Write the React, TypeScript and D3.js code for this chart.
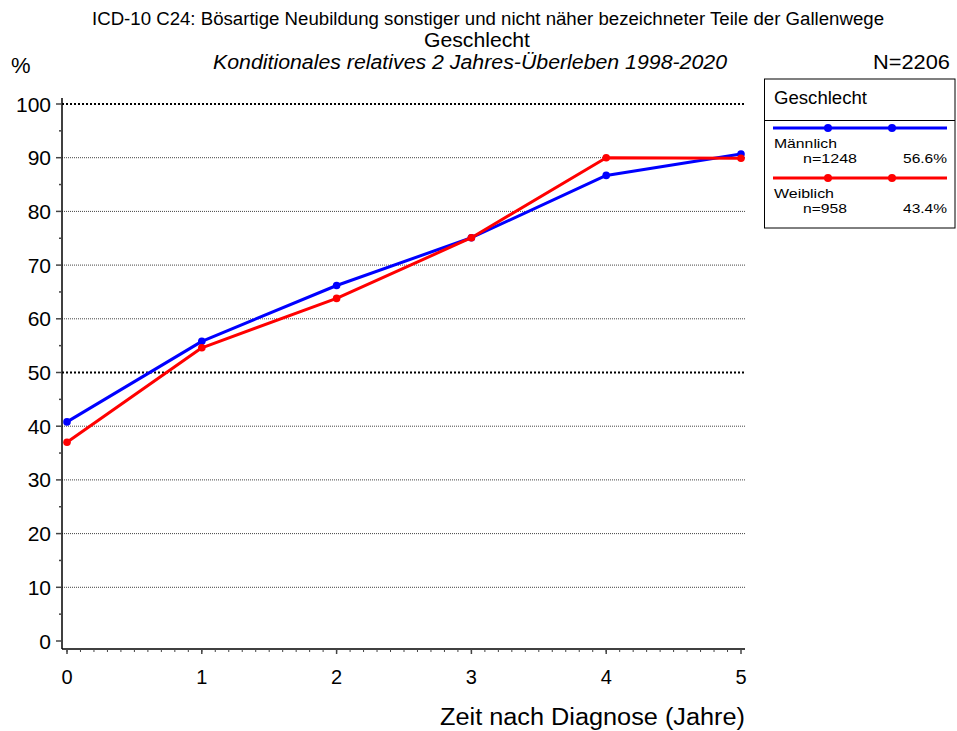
import React from 'react';
import * as d3 from 'd3';

// years after diagnosis
const years = [0, 1, 2, 3, 4, 5];
// conditional relative 2-year survival (%)
const maennlich = [40.8, 55.8, 66.2, 75.1, 86.7, 90.7];
const weiblich = [37.0, 54.6, 63.8, 75.1, 90.0, 89.9];
const yTicks = [0, 10, 20, 30, 40, 50, 60, 70, 80, 90, 100];

const series = [
  { name: 'Männlich', n: 'n=1248', pct: '56.6%', color: '#0000ff', values: maennlich },
  { name: 'Weiblich', n: 'n=958', pct: '43.4%', color: '#ff0000', values: weiblich },
];

const FONT = '"Liberation Sans", Arial, sans-serif';

// legend text widths as measured in the original
const legendWidths = [
  { name: 63, n: 54, pct: 44 },
  { name: 60, n: 44, pct: 44 },
];

export default function App() {
  const width = 957;
  const height = 731;

  // scales
  const x = d3.scaleLinear().domain([0, 5]).range([67, 741]);
  const y = d3.scaleLinear().domain([0, 100]).range([641, 104]);

  const line = d3.line<number>()
    .x((d, i) => x(years[i]))
    .y((d) => y(d));

  const minorX = d3.range(0, 50).map((i) => i / 10);
  const minorY = d3.range(5, 100, 10);

  return (
    <svg width={width} height={height} style={{ position: 'absolute', left: 0, top: 0 }} fontFamily={FONT}>
      <rect width={width} height={height} fill="#fff" />

      {/* titles */}
      <text x={92} y={25} fontSize={18} textLength={792} lengthAdjust="spacingAndGlyphs">
        ICD-10 C24: Bösartige Neubildung sonstiger und nicht näher bezeichneter Teile der Gallenwege
      </text>
      <text x={424} y={47} fontSize={20} textLength={106} lengthAdjust="spacingAndGlyphs">Geschlecht</text>
      <text x={213} y={69} fontSize={19.5} fontStyle="italic" textLength={514} lengthAdjust="spacingAndGlyphs">
        Konditionales relatives 2 Jahres-Überleben 1998-2020
      </text>
      <text x={11} y={73} fontSize={22}>%</text>
      <text x={873} y={69} fontSize={20} textLength={77} lengthAdjust="spacingAndGlyphs">N=2206</text>

      {/* grid lines */}
      {yTicks.filter((t) => t > 0).map((t) => {
        const bold = t === 100 || t === 50;
        return (
          <line key={'g' + t} x1={62} x2={745} y1={y(t)} y2={y(t)}
            stroke={bold ? '#000' : '#444'} strokeWidth={bold ? 2 : 1}
            strokeDasharray={bold ? '2,2' : '1,1'} />
        );
      })}

      {/* y axis */}
      <line x1={62} x2={62} y1={98} y2={649} stroke="#000" strokeWidth={1.5} />
      {yTicks.map((t) => (
        <g key={'y' + t}>
          <line x1={56} x2={62} y1={y(t)} y2={y(t)} stroke="#444" strokeWidth={1.5} />
          <text x={51} y={y(t) + 7.5} fontSize={21} textAnchor="end">{t}</text>
        </g>
      ))}
      {minorY.map((t) => (
        <line key={'my' + t} x1={59} x2={62} y1={y(t)} y2={y(t)} stroke="#444" strokeWidth={1.5} />
      ))}

      {/* x axis */}
      <line x1={62} x2={745} y1={649} y2={649} stroke="#000" strokeWidth={1.5} />
      {minorX.map((t) => (
        <line key={'mx' + t} x1={x(t)} x2={x(t)} y1={649} y2={652} stroke="#444" strokeWidth={1} />
      ))}
      {years.map((t) => (
        <g key={'x' + t}>
          <line x1={x(t)} x2={x(t)} y1={649} y2={654} stroke="#444" strokeWidth={1.5} />
          <text x={x(t)} y={684} fontSize={20} textAnchor="middle">{t}</text>
        </g>
      ))}
      <text x={440} y={725} fontSize={23} textLength={305} lengthAdjust="spacingAndGlyphs">Zeit nach Diagnose (Jahre)</text>

      {/* series */}
      {series.map((s) => (
        <g key={s.name}>
          <path d={line(s.values) || ''} fill="none" stroke={s.color} strokeWidth={3} strokeLinejoin="round" />
          {s.values.map((v, i) => (
            <circle key={i} cx={x(years[i])} cy={y(v)} r={3.8} fill={s.color} />
          ))}
        </g>
      ))}

      {/* legend */}
      <g>
        <rect x={764.5} y={79} width={190.5} height={149} fill="#fff" stroke="#000" strokeWidth={1} />
        <line x1={764.5} x2={955} y1={120.5} y2={120.5} stroke="#000" strokeWidth={1} />
        <text x={774} y={104} fontSize={17.5} textLength={93} lengthAdjust="spacingAndGlyphs">Geschlecht</text>
        {series.map((s, i) => {
          const ly = 128 + i * 50;
          const w = legendWidths[i];
          return (
            <g key={'l' + s.name}>
              <line x1={773} x2={947} y1={ly} y2={ly} stroke={s.color} strokeWidth={3.2} />
              <circle cx={828} cy={ly} r={4} fill={s.color} />
              <circle cx={892} cy={ly} r={4} fill={s.color} />
              <text x={774} y={ly + 20} fontSize={13.5} textLength={w.name} lengthAdjust="spacingAndGlyphs">{s.name}</text>
              <text x={803} y={ly + 35} fontSize={13.5} textLength={w.n} lengthAdjust="spacingAndGlyphs">{s.n}</text>
              <text x={947 - w.pct} y={ly + 35} fontSize={13.5} textLength={w.pct} lengthAdjust="spacingAndGlyphs">{s.pct}</text>
            </g>
          );
        })}
      </g>
    </svg>
  );
}
